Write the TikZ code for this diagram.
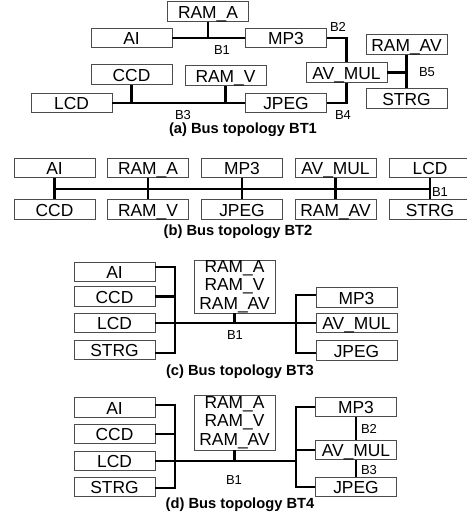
\documentclass[tikz,border=0pt]{standalone}
\usepackage{fontspec}
\setmainfont{Liberation Sans}
\begin{document}
\begin{tikzpicture}[x=1pt,y=-1pt,
  box/.style={draw=black!70, line width=0.9pt, minimum width=81pt, minimum height=19.5pt, inner sep=0pt,
    text height=13.5pt, text depth=0pt, font=\fontsize{17.4}{18}\selectfont},
  rambox/.style={draw=black!70, line width=0.9pt, minimum width=81pt, inner sep=0pt, align=center,
    font=\fontsize{17.4}{18.5}\selectfont},
  bus/.style={line width=2.2pt, black},
  lbl/.style={font=\fontsize{13}{14}\selectfont, inner sep=0pt},
  captxt/.style={font=\bfseries\fontsize{14.7}{16}\selectfont, inner sep=0pt}]
\useasboundingbox (0,0) rectangle (466,524);

% ---------- (a) ----------
\node[box] (RAMA) at (208,11.5) {RAM\_A};
\node[box] (AI) at (131.5,38) {AI};
\node[box] (MP3) at (286,38) {MP3};
\node[box] (AVMUL) at (346.5,72.5) {AV\_MUL};
\node[box] (RAMAV) at (406.5,44.5) {RAM\_AV};
\node[box] (STRG) at (406.5,98.5) {STRG};
\node[box] (CCD) at (131.5,74.5) {CCD};
\node[box] (RAMV) at (225.5,75.5) {RAM\_V};
\node[box] (LCD) at (71.5,103) {LCD};
\node[box] (JPEG) at (286,103) {JPEG};

\draw[bus] (AI.east) -- (MP3.west);
\draw[bus] (RAMA.south) -- (RAMA.south |- AI.east);
\draw[bus] (MP3.east) -| (AVMUL.north);
\draw[bus] (AVMUL.south) |- (JPEG.east);
\draw[bus] (RAMAV.south) -- (STRG.north);
\draw[bus] (AVMUL.east) -- (RAMAV.south |- AVMUL.east);
\draw[bus] (LCD.east) -- (JPEG.west);
\draw[bus] (CCD.south) -- (CCD.south |- LCD.east);
\draw[bus] (RAMV.south) -- (RAMV.south |- LCD.east);

\node[lbl] (aB1) at (222,50) {B1};
\node[lbl] (aB2) at (338,27) {B2};
\node[lbl] (aB3) at (183,115) {B3};
\node[lbl] (aB4) at (343,115) {B4};
\node[lbl] (aB5) at (427,72) {B5};
\node[captxt] (capa) at (243,130) {(a) Bus topology BT1};

% ---------- (b) ----------
\node[box] (bAI) at (54.5,168) {AI};
\node[box] (bRAMA) at (148,168) {RAM\_A};
\node[box] (bMP3) at (242,168) {MP3};
\node[box] (bAVMUL) at (335.5,168) {AV\_MUL};
\node[box] (bLCD) at (430,168) {LCD};
\node[box] (bCCD) at (54.5,209.5) {CCD};
\node[box] (bRAMV) at (148,209.5) {RAM\_V};
\node[box] (bJPEG) at (242,209.5) {JPEG};
\node[box] (bRAMAV) at (335.5,209.5) {RAM\_AV};
\node[box] (bSTRG) at (430,209.5) {STRG};
\coordinate (bL) at (54.5,189);
\coordinate (bR) at (430,189);
\draw[bus] (bL) -- (bR);
\draw[bus] (bAI.south) -- (bCCD.north);
\draw[bus] (bRAMA.south) -- (bRAMV.north);
\draw[bus] (bMP3.south) -- (bJPEG.north);
\draw[bus] (bAVMUL.south) -- (bRAMAV.north);
\draw[bus] (bLCD.south) -- (bSTRG.north);
\node[lbl] (bB1) at (440,192) {B1};
\node[captxt] (capb) at (238,232) {(b) Bus topology BT2};

% ---------- (c) ----------
\node[box] (cAI) at (114.5,272) {AI};
\node[box] (cCCD) at (114.5,296.5) {CCD};
\node[box] (cLCD) at (114.5,323) {LCD};
\node[box] (cSTRG) at (114.5,350) {STRG};
\node[rambox, minimum height=53pt] (cRAM) at (234.5,286.5) {RAM\_A\\RAM\_V\\RAM\_AV};
\node[box] (cMP3) at (356.5,297.5) {MP3};
\node[box] (cAVMUL) at (356.5,323) {AV\_MUL};
\node[box] (cJPEG) at (356.5,350.5) {JPEG};
\coordinate (cLtop) at (175,267);
\coordinate (cLbot) at (175,353);
\coordinate (cRtop) at (296,295);
\coordinate (cRbot) at (296,353);
\draw[bus] (cAI.east |- cLtop) -- (cLtop) -- (cLbot) -- (cSTRG.east |- cLbot);
\draw[bus] (cCCD.east) -- (cCCD.east -| cLtop);
\draw[bus] (cLCD.east) -- (cAVMUL.west);
\draw[bus] (cRAM.south) -- (cRAM.south |- cLCD.east);
\draw[bus] (cMP3.west |- cRtop) -- (cRtop) -- (cRbot) -- (cJPEG.west |- cRbot);
\node[lbl] (cB1) at (235,335) {B1};
\node[captxt] (capc) at (240,372) {(c) Bus topology BT3};

% ---------- (d) ----------
\node[box] (dAI) at (114.5,407.5) {AI};
\node[box] (dCCD) at (114.5,434) {CCD};
\node[box] (dLCD) at (114.5,461) {LCD};
\node[box] (dSTRG) at (114.5,486.7) {STRG};
\node[rambox, minimum height=55pt] (dRAM) at (234.5,422.5) {RAM\_A\\RAM\_V\\RAM\_AV};
\node[box] (dMP3) at (356,407) {MP3};
\node[box] (dAVMUL) at (356,450) {AV\_MUL};
\node[box] (dJPEG) at (356,486.7) {JPEG};
\coordinate (dLtop) at (175,405);
\coordinate (dLbot) at (175,488.3);
\coordinate (dRtop) at (296,407);
\coordinate (dRbot) at (296,486.7);
\draw[bus] (dAI.east |- dLtop) -- (dLtop) -- (dLbot) -- (dSTRG.east |- dLbot);
\draw[bus] (dCCD.east) -- (dCCD.east -| dLtop);
\draw[bus] (dLCD.east) -- (dLCD.east -| dRtop);
\draw[bus] (dRAM.south) -- (dRAM.south |- dLCD.east);
\draw[bus] (dMP3.west) -- (dRtop) -- (dRbot) -- (dJPEG.west);
\draw[bus] (dAVMUL.west) -- (dAVMUL.west -| dRtop);
\draw[bus] (dMP3.south) -- (dAVMUL.north);
\draw[bus] (dAVMUL.south) -- (dJPEG.north);
\node[lbl] (dB2) at (369,429) {B2};
\node[lbl] (dB3) at (369,470) {B3};
\node[lbl] (dB1) at (234,480) {B1};
\node[captxt] (capd) at (240,505) {(d) Bus topology BT4};
\end{tikzpicture}
\end{document}
